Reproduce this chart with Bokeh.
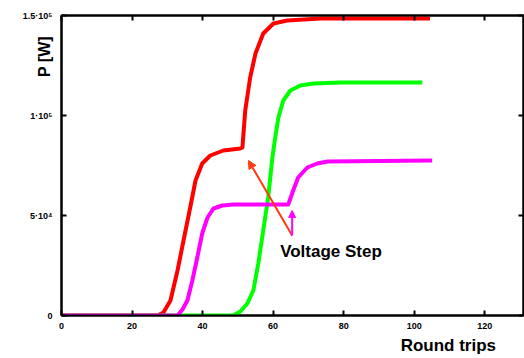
from bokeh.plotting import figure
from bokeh.models import Range1d, LinearAxis, FixedTicker, Label, Arrow, NormalHead
from bokeh.embed import file_html
from bokeh.resources import INLINE

# ---- data (x: round trips, y: power in W) ----
red_x = [0, 27.2, 28.9, 30.9, 32.9, 34.6, 36.5, 38.0, 39.9, 42.2, 45.9, 50.7, 51.3,
         52.1, 53.5, 55.0, 57.2, 60.1, 64.0, 73.4, 104.5]
red_y = [0, 0, 1500, 7500, 22500, 37500, 54000, 67500, 76000, 80000, 82500, 83500, 84000,
         102500, 119000, 131000, 141000, 146000, 147500, 148500, 148500]

green_x = [0, 48.7, 50.7, 52.7, 54.4, 55.8, 57.2, 58.6, 59.8, 60.6, 61.5, 62.9, 64.9,
           67.7, 71.4, 79.0, 102.3]
green_y = [0, 0, 2000, 6000, 12500, 26000, 42500, 59000, 79000, 89000, 99000, 107500, 112500,
           115000, 116000, 116500, 116500]

magenta_x = [0, 32.9, 34.3, 35.7, 37.1, 38.5, 39.9, 41.4, 43.1, 45.6, 48.7, 64.3, 65.7,
             67.1, 69.7, 72.5, 75.4, 105.1]
magenta_y = [0, 0, 3000, 7500, 17500, 29000, 41000, 49000, 53500, 55000, 55500, 55500, 62500,
             69000, 74000, 76000, 77000, 77500]

x_ticks = [0, 20, 40, 60, 80, 100, 120]
y_ticks = [0, 50000, 100000, 150000]
y_tick_labels = ["0", "5·10⁴", "1·10⁵", "1.5·10⁵"]

x_title = "Round trips"
y_title = "P [W]"
annotation_text = "Voltage Step"
annot_pos = (62.0, 32000)
arrow_tail = (65.4, 40000)
arrow_red_head = (53.0, 77500)
arrow_mag_head = (65.4, 52500)

FONT = "Liberation Sans"
NB = "\u00a0"

p = figure(width=524, height=358, output_backend="svg", toolbar_location=None,
           x_range=Range1d(0, 131), y_range=Range1d(0, 150000))
p.min_border_left = 61
p.min_border_top = 15
p.min_border_right = 1
p.min_border_bottom = 43
p.grid.visible = False
p.outline_line_color = "black"
p.outline_line_width = 2

for ax in [p.xaxis[0], p.yaxis[0]]:
    ax.axis_line_width = 2
    ax.axis_line_color = "black"
    ax.major_tick_in = 5
    ax.major_tick_out = 0
    ax.major_tick_line_width = 2
    ax.major_tick_line_color = "black"
    ax.minor_tick_line_color = None
    ax.major_label_text_font = FONT
    ax.major_label_text_font_style = "bold"
    ax.major_label_text_font_size = "9px"
    ax.major_label_text_color = "black"
    ax.axis_label_text_font = FONT
    ax.axis_label_text_font_style = "bold"
    ax.axis_label_text_color = "black"

p.xaxis[0].axis_label_text_font_size = "17px"
p.yaxis[0].axis_label_text_font_size = "16px"

p.xaxis[0].ticker = FixedTicker(ticks=x_ticks)
p.xaxis[0].major_label_standoff = 7
p.yaxis[0].ticker = FixedTicker(ticks=y_ticks)
p.yaxis[0].major_label_overrides = {t: l for t, l in zip(y_ticks, y_tick_labels)}
p.yaxis[0].major_label_standoff = 9

try:
    p.xaxis[0].axis_label_align = "right"
    p.yaxis[0].axis_label_align = "right"
    xlab = x_title + NB * 5
    ylab = y_title + NB * 4
except (AttributeError, ValueError):
    xlab = NB * 66 + x_title
    ylab = NB * 49 + y_title
p.xaxis[0].axis_label = xlab
p.xaxis[0].axis_label_standoff = 4
p.yaxis[0].axis_label = ylab
p.yaxis[0].axis_label_standoff = -33

top = LinearAxis(ticker=FixedTicker(ticks=x_ticks), major_tick_in=5, major_tick_out=0,
                 major_tick_line_width=2, minor_tick_line_color=None,
                 axis_line_color="black", axis_line_width=2,
                 major_label_overrides={t: "" for t in x_ticks}, major_label_standoff=0)
right = LinearAxis(ticker=FixedTicker(ticks=y_ticks), major_tick_in=5, major_tick_out=0,
                   major_tick_line_width=2, minor_tick_line_color=None,
                   axis_line_color="black", axis_line_width=2,
                   major_label_overrides={t: "" for t in y_ticks}, major_label_standoff=0)
p.add_layout(top, "above")
p.add_layout(right, "right")

p.line(red_x, red_y, line_color="#ff0000", line_width=4, line_join="round")
p.line(green_x, green_y, line_color="#00ff00", line_width=4, line_join="round")
p.line(magenta_x, magenta_y, line_color="#ff00ff", line_width=4, line_join="round")

p.add_layout(Arrow(x_start=arrow_tail[0], y_start=arrow_tail[1],
                   x_end=arrow_red_head[0], y_end=arrow_red_head[1],
                   line_color="#ff3a10", line_width=2,
                   end=NormalHead(size=8, fill_color="#ff3a10", line_color="#ff3a10")))
p.add_layout(Arrow(x_start=arrow_tail[0], y_start=arrow_tail[1],
                   x_end=arrow_mag_head[0], y_end=arrow_mag_head[1],
                   line_color="#ff00ff", line_width=2,
                   end=NormalHead(size=7, fill_color="#ff00ff", line_color="#ff00ff")))

p.add_layout(Label(x=annot_pos[0], y=annot_pos[1], text=annotation_text,
                   text_font=FONT, text_font_style="bold", text_font_size="17px",
                   text_baseline="alphabetic", text_align="left", text_color="black"))

open("out.html", "w").write(file_html(p, INLINE))
